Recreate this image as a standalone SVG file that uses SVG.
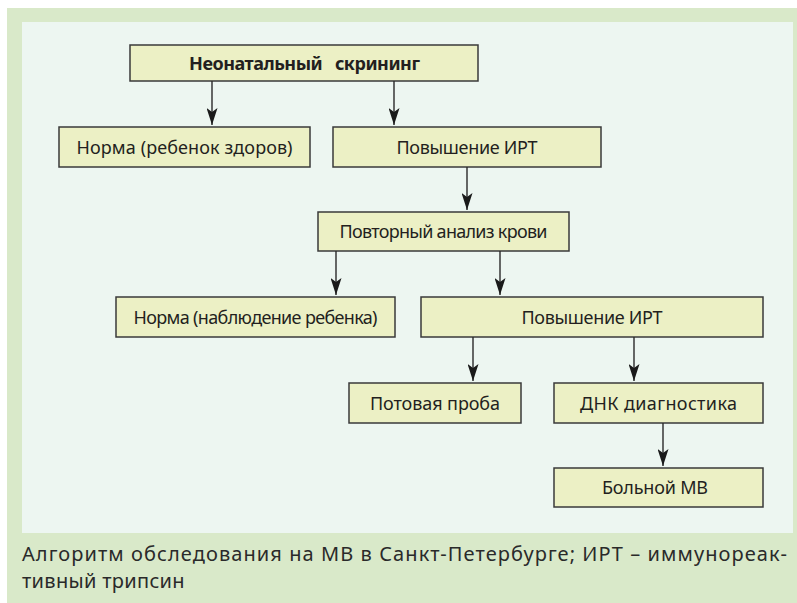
<svg xmlns="http://www.w3.org/2000/svg" width="797" height="603" viewBox="0 0 797 603">
<style>
.box{fill:#ecf0c5;stroke:#3a3a3a;stroke-width:1.5}
.t{font-family:"Noto Sans","Open Sans",sans-serif;font-size:18px;fill:#231f20;text-anchor:middle}
.b{font-weight:bold}
.c{stroke:#2a2a2a;stroke-width:1.4;fill:none}
.cap{font-family:"Noto Sans","Open Sans",sans-serif;font-size:20px;fill:#2a2a2a}
</style>
<defs>
<marker id="ah" markerUnits="userSpaceOnUse" viewBox="0 0 17 11" refX="17" refY="5.5" markerWidth="17" markerHeight="11" orient="auto">
<path d="M0,0 L17,5.5 L0,11 L4,5.5 Z" fill="#1a1a1a"/>
</marker>
</defs>
<rect x="7" y="8" width="790" height="595" fill="#d9e9c9"/>
<rect x="22" y="22" width="771" height="511" fill="#edf6f1"/>
<g id="n1"><rect class="box" x="130" y="45" width="348" height="36"/><text class="t b" x="304.5" y="69.5" xml:space="preserve" textLength="231" lengthAdjust="spacing">Неонатальный   скрининг</text></g>
<g id="n2"><rect class="box" x="59" y="127" width="251" height="40"/><text class="t" x="184.5" y="153.5" textLength="216" lengthAdjust="spacing">Норма (ребенок здоров)</text></g>
<g id="n3"><rect class="box" x="333" y="127" width="268" height="40"/><text class="t" x="467" y="153.5" textLength="141" lengthAdjust="spacing">Повышение ИРТ</text></g>
<g id="n4"><rect class="box" x="318" y="212" width="251" height="39"/><text class="t" x="443.5" y="238" textLength="208" lengthAdjust="spacing">Повторный анализ крови</text></g>
<g id="n5"><rect class="box" x="116" y="297" width="279" height="40"/><text class="t" x="255.5" y="323.5" textLength="244" lengthAdjust="spacing">Норма (наблюдение ребенка)</text></g>
<g id="n6"><rect class="box" x="421" y="297" width="342" height="40"/><text class="t" x="592" y="323.5" textLength="141" lengthAdjust="spacing">Повышение ИРТ</text></g>
<g id="n7"><rect class="box" x="349" y="383" width="172" height="40"/><text class="t" x="435" y="409.5" textLength="130" lengthAdjust="spacing">Потовая проба</text></g>
<g id="n8"><rect class="box" x="554" y="383" width="209" height="40"/><text class="t" x="658.5" y="409.5" textLength="157" lengthAdjust="spacing">ДНК диагностика</text></g>
<g id="n9"><rect class="box" x="554" y="468" width="209" height="39"/><text class="t" x="655" y="494" textLength="106" lengthAdjust="spacing">Больной МВ</text></g>
<g id="connectors">
<line class="c" x1="212" y1="81" x2="212" y2="125" marker-end="url(#ah)"/>
<line class="c" x1="394" y1="81" x2="394" y2="125" marker-end="url(#ah)"/>
<line class="c" x1="467" y1="167" x2="467" y2="210" marker-end="url(#ah)"/>
<line class="c" x1="336" y1="251" x2="336" y2="295" marker-end="url(#ah)"/>
<line class="c" x1="500" y1="251" x2="500" y2="295" marker-end="url(#ah)"/>
<line class="c" x1="473" y1="337" x2="473" y2="381" marker-end="url(#ah)"/>
<line class="c" x1="634" y1="337" x2="634" y2="381" marker-end="url(#ah)"/>
<line class="c" x1="663" y1="423" x2="663" y2="466" marker-end="url(#ah)"/>
</g>
<text class="cap" x="22" y="561" textLength="765" lengthAdjust="spacing">Алгоритм обследования на МВ в Санкт-Петербурге; ИРТ – иммунореак-</text>
<text class="cap" x="22" y="588" letter-spacing="0.3">тивный трипсин</text>
</svg>
